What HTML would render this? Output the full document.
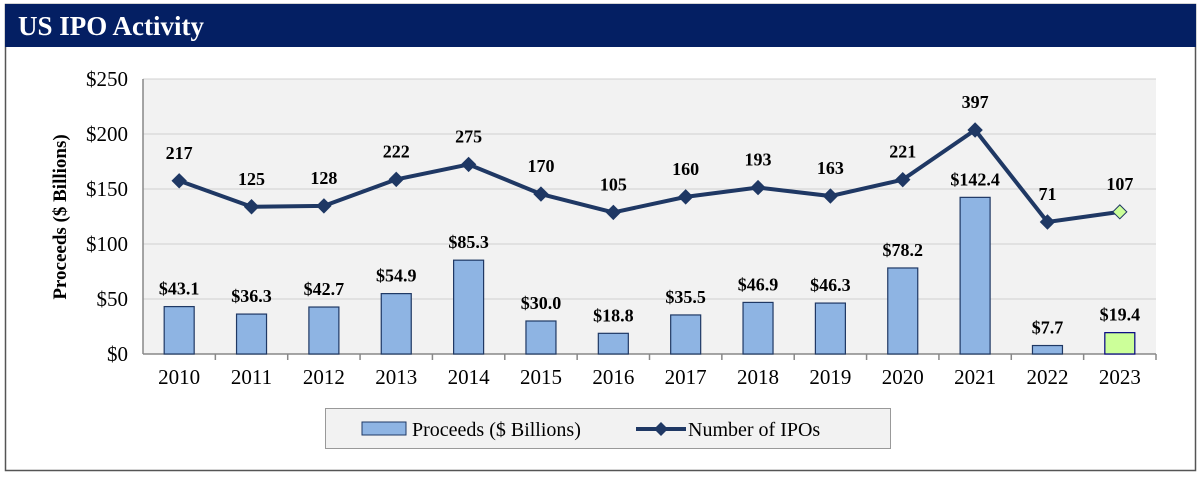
<!DOCTYPE html>
<html><head><meta charset="utf-8"><style>
body{margin:0;background:#fff;width:1200px;height:477px;overflow:hidden}
svg text{font-family:"Liberation Serif",serif}
</style></head><body>
<svg width="1200" height="477" xmlns="http://www.w3.org/2000/svg">
<rect x="5.5" y="4.5" width="1190" height="466" fill="#fff" stroke="#555" stroke-width="1.5"/>
<rect x="5" y="4" width="1191" height="43" fill="#041f63"/>
<text x="18" y="35" font-size="27" font-weight="bold" fill="#fff">US IPO Activity</text>
<rect x="143" y="79" width="1013" height="275" fill="#f2f2f2"/>
<g id="grid"></g>
<g id="bars"></g>
<g id="line"></g>
<g id="labels"></g>
<text transform="translate(66,217) rotate(-90)" text-anchor="middle" font-size="19" font-weight="bold">Proceeds ($ Billions)</text>
<g>
<rect x="325.5" y="408.5" width="565" height="40" fill="#f2f2f2" stroke="#999"/>
<rect x="362" y="422" width="44" height="13" fill="#8eb4e3" stroke="#1f3864"/>
<text x="412" y="436" font-size="20">Proceeds ($ Billions)</text>
<line x1="636" y1="429" x2="686" y2="429" stroke="#1f3864" stroke-width="4"/>
<path d="M661 422 L668 429 L661 436 L654 429Z" fill="#1f3864"/>
<text x="688" y="436" font-size="20">Number of IPOs</text>
</g>
</svg>
<script>
const years=["2010","2011","2012","2013","2014","2015","2016","2017","2018","2019","2020","2021","2022","2023"];
const proceeds=[43.1,36.3,42.7,54.9,85.3,30.0,18.8,35.5,46.9,46.3,78.2,142.4,7.7,19.4];
const ipoCounts=[217,125,128,222,275,170,105,160,193,163,221,397,71,107];
const yTicks=[0,50,100,150,200,250];
const NS="http://www.w3.org/2000/svg";
const L=143,R=1156,T=79,B=354,bw=(R-L)/years.length;
const x=i=>L+bw*(i+0.5);
const y=v=>B-(v/250)*(B-T);
const yc=c=>222-(c-71)*0.2822;
function mk(tag,attrs,parent,text){const e=document.createElementNS(NS,tag);for(const k in attrs)e.setAttribute(k,attrs[k]);if(text!==undefined)e.textContent=text;document.getElementById(parent).appendChild(e);return e;}
yTicks.forEach(t=>{
  if(t>0){const g=mk('line',{x1:L,x2:R,y1:y(t),y2:y(t),stroke:'#d0d0d0','stroke-width':1},'grid');
  
  }
  const tx=mk('text',{x:128,y:y(t)+7,'text-anchor':'end','font-size':21},'grid','$'+t);
  
  
});
mk('line',{x1:L,x2:L,y1:T,y2:B,stroke:'#888','stroke-width':1.5},'grid');
mk('line',{x1:L,x2:R,y1:B,y2:B,stroke:'#888','stroke-width':1.5},'grid');
years.forEach((yr,i)=>{
  mk('line',{x1:L+bw*(i+1),x2:L+bw*(i+1),y1:B,y2:B+6,stroke:'#888','stroke-width':1.5},'grid');
  const t=mk('text',{x:x(i),y:B+30,'text-anchor':'middle','font-size':21},'grid',yr);
  
  
  const last=i===years.length-1;
  const b=mk('rect',{x:x(i)-15,y:y(proceeds[i]),width:30,height:B-y(proceeds[i]),fill:last?'#ccff99':'#8eb4e3',stroke:last?'#000080':'#1f3864','stroke-width':1.2},'bars');
  
  
  const bl=mk('text',{x:x(i),y:y(proceeds[i])-12,'text-anchor':'middle','font-size':18,'font-weight':'bold'},'labels','$'+proceeds[i].toFixed(1));
  
  
  const cl=mk('text',{x:x(i),y:yc(ipoCounts[i])-22,'text-anchor':'middle','font-size':18,'font-weight':'bold'},'labels',String(ipoCounts[i]));
  
  
});
const pl=mk('polyline',{points:ipoCounts.map((c,i)=>x(i)+','+yc(c)).join(' '),fill:'none',stroke:'#1f3864','stroke-width':4},'line');


ipoCounts.forEach((c,i)=>{
  const cx=x(i),cy=yc(c),last=i===ipoCounts.length-1;
  const m=mk('path',{d:`M${cx} ${cy-7}L${cx+7} ${cy}L${cx} ${cy+7}L${cx-7} ${cy}Z`,fill:last?'#ccff99':'#1f3864',stroke:'#1f3864','stroke-width':1},'line');
  
  
});
</script>
</body></html>
